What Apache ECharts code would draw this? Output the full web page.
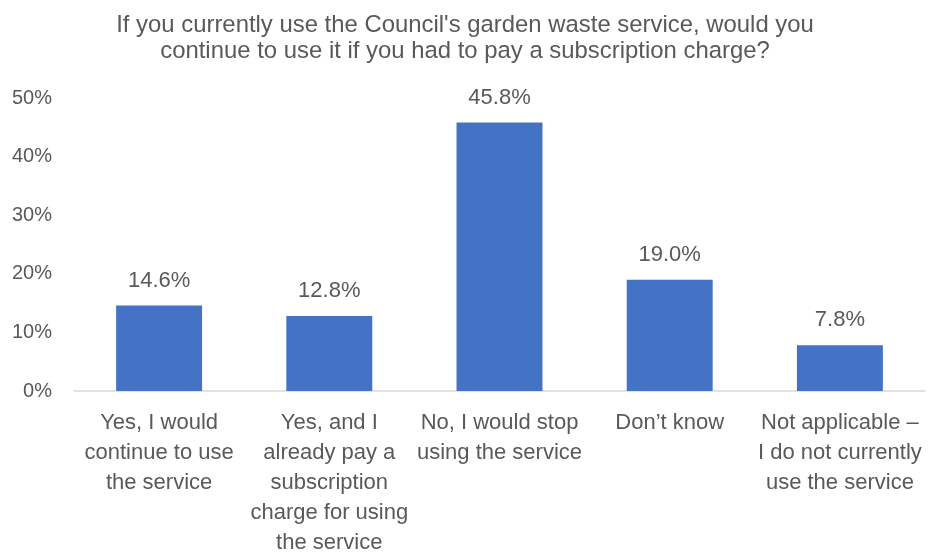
<!DOCTYPE html>
<html>
<head>
<meta charset="utf-8">
<script src="https://cdn.jsdelivr.net/npm/echarts@6/dist/echarts.min.js"></script>
<style>
  html, body { margin: 0; padding: 0; background: #ffffff; }
  #chart { width: 928px; height: 558px; }
</style>
</head>
<body>
<div id="chart"></div>
<script>
// Survey responses: willingness to keep using garden waste collection with a charge
const titleText = "If you currently use the Council's garden waste service, would you\ncontinue to use it if you had to pay a subscription charge?";
const categories = [
  "Yes, I would\ncontinue to use\nthe service",
  "Yes, and I\nalready pay a\nsubscription\ncharge for using\nthe service",
  "No, I would stop\nusing the service",
  "Don\u2019t know",
  "Not applicable \u2013\nI do not currently\nuse the service"
];
const shares = [14.6, 12.8, 45.8, 19.0, 7.8];
const yTicks = [0, 10, 20, 30, 40, 50];

const textColor = '#595959';
const fontFamily = "'Liberation Sans', Arial, sans-serif";

const chart = echarts.init(document.getElementById('chart'), null, { renderer: 'canvas' });
chart.setOption({
  backgroundColor: '#ffffff',
  animation: false,
  title: {
    text: titleText,
    left: 460,
    textAlign: 'center',
    top: 7,
    textStyle: {
      color: textColor,
      fontFamily: fontFamily,
      fontSize: 23.9,
      fontWeight: 'normal',
      lineHeight: 26
    }
  },
  grid: { left: 74, right: 3, top: 98, bottom: 162, containLabel: false },
  xAxis: {
    type: 'category',
    data: categories,
    axisLine: { show: true, lineStyle: { color: '#d9d9d9', width: 1.5 } },
    axisTick: { show: false },
    axisLabel: {
      color: textColor,
      fontFamily: fontFamily,
      fontSize: 22,
      lineHeight: 30,
      margin: 17,
      interval: 0,
      align: 'center',
      verticalAlign: 'top'
    }
  },
  yAxis: {
    type: 'value',
    min: yTicks[0],
    max: yTicks[yTicks.length - 1],
    interval: yTicks[1] - yTicks[0],
    splitLine: { show: false },
    axisLine: { show: false },
    axisTick: { show: false },
    axisLabel: {
      color: textColor,
      fontFamily: fontFamily,
      fontSize: 20,
      margin: 22,
      formatter: v => v + '%'
    }
  },
  series: [{
    type: 'bar',
    data: shares,
    barCategoryGap: '49.5%',
    itemStyle: { color: '#4472c4' },
    label: {
      show: true,
      position: 'top',
      distance: 14,
      color: textColor,
      fontFamily: fontFamily,
      fontSize: 22,
      formatter: p => p.value.toFixed(1) + '%'
    }
  }]
});
</script>
</body>
</html>
